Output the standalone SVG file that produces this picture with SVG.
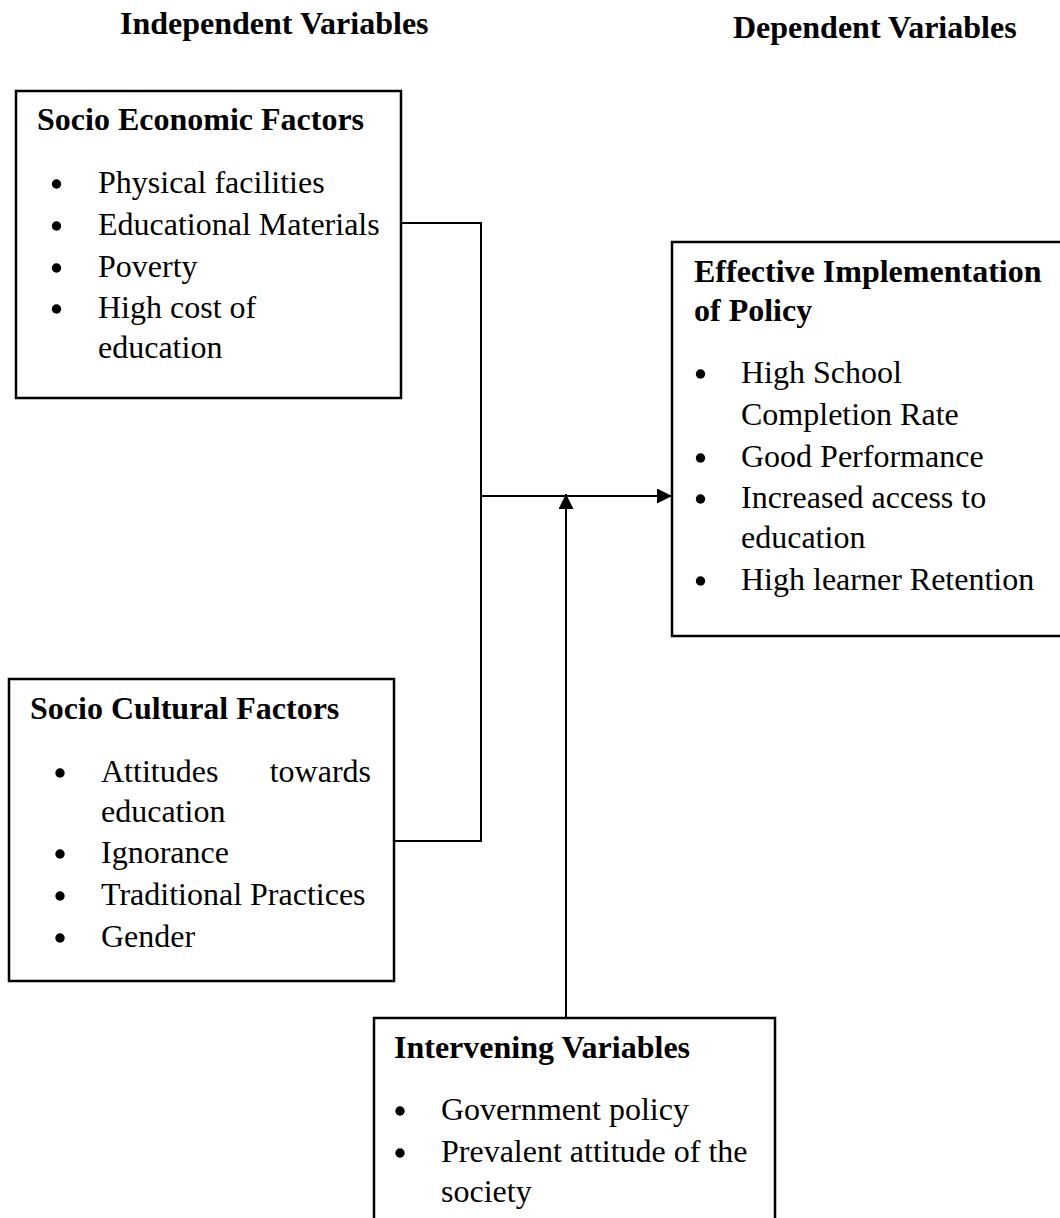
<svg xmlns="http://www.w3.org/2000/svg" width="1060" height="1218" viewBox="0 0 1060 1218">
<defs>
<style>
text{font-family:"Liberation Serif","Times New Roman",serif;font-size:32px;fill:#000}
.h{font-weight:bold}
.box{fill:#fff;stroke:#000;stroke-width:2.5}
.ln{fill:none;stroke:#000;stroke-width:2}
.b{fill:#000}
</style>
<marker id="arr" viewBox="0 0 15 15" refX="15" refY="7.5" markerWidth="15" markerHeight="15" markerUnits="userSpaceOnUse" orient="auto">
<path d="M0,0 L15,7.5 L0,15 Z" fill="#000"/>
</marker>
</defs>
<rect width="1060" height="1218" fill="#fff"/>
<g id="headers">
<text class="h" x="120" y="34">Independent Variables</text>
<text class="h" x="733" y="38">Dependent Variables</text>
</g>
<g id="connectors">
<polyline class="ln" points="401,223 481,223 481,841 394,841"/>
<line class="ln" x1="481" y1="496" x2="672" y2="496" marker-end="url(#arr)"/>
<line class="ln" x1="566" y1="1018" x2="566" y2="494" marker-end="url(#arr)"/>
</g>
<g id="socio-economic">
<rect class="box" x="16" y="91" width="385" height="307"/>
<text class="h" x="37" y="130">Socio Economic Factors</text>
<circle class="b" cx="56.5" cy="184" r="4.7"/><text x="98" y="193">Physical facilities</text>
<circle class="b" cx="56.5" cy="226" r="4.7"/><text x="98" y="235">Educational Materials</text>
<circle class="b" cx="56.5" cy="268" r="4.7"/><text x="98" y="277">Poverty</text>
<circle class="b" cx="56.5" cy="309" r="4.7"/><text x="98" y="318">High cost of</text>
<text x="98" y="358">education</text>
</g>
<g id="effective-implementation">
<rect class="box" x="672" y="242" width="400" height="394"/>
<text class="h" x="694" y="282">Effective Implementation</text>
<text class="h" x="694" y="321">of Policy</text>
<circle class="b" cx="700.5" cy="374" r="4.7"/><text x="741" y="383">High School</text>
<text x="741" y="425">Completion Rate</text>
<circle class="b" cx="700.5" cy="458" r="4.7"/><text x="741" y="467">Good Performance</text>
<circle class="b" cx="700.5" cy="499" r="4.7"/><text x="741" y="508">Increased access to</text>
<text x="741" y="548">education</text>
<circle class="b" cx="700.5" cy="581" r="4.7"/><text x="741" y="590">High learner Retention</text>
</g>
<g id="socio-cultural">
<rect class="box" x="9" y="679" width="385" height="302"/>
<text class="h" x="30" y="719">Socio Cultural Factors</text>
<circle class="b" cx="60" cy="773" r="4.7"/><text x="101" y="782">Attitudes</text><text x="371" y="782" text-anchor="end">towards</text>
<text x="101" y="822">education</text>
<circle class="b" cx="60" cy="854" r="4.7"/><text x="101" y="863">Ignorance</text>
<circle class="b" cx="60" cy="896" r="4.7"/><text x="101" y="905">Traditional Practices</text>
<circle class="b" cx="60" cy="938" r="4.7"/><text x="101" y="947">Gender</text>
</g>
<g id="intervening">
<rect class="box" x="374" y="1018" width="401" height="230"/>
<text class="h" x="394" y="1058">Intervening Variables</text>
<circle class="b" cx="400" cy="1111" r="4.7"/><text x="441" y="1120">Government policy</text>
<circle class="b" cx="400" cy="1153" r="4.7"/><text x="441" y="1162">Prevalent attitude of the</text>
<text x="441" y="1202">society</text>
</g>
</svg>
